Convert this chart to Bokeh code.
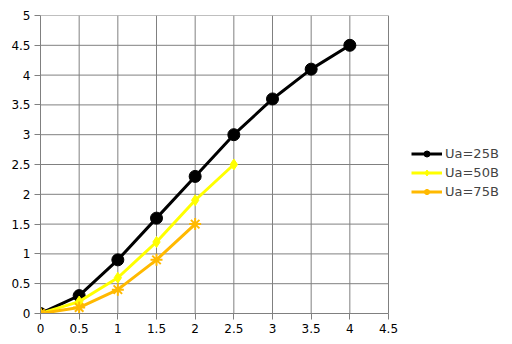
from bokeh.plotting import figure
from bokeh.models import Legend, LegendItem, FixedTicker, Range1d
from bokeh.embed import file_html
from bokeh.resources import INLINE

# data
x25 = [0, 0.5, 1, 1.5, 2, 2.5, 3, 3.5, 4]
y25 = [0, 0.3, 0.9, 1.6, 2.3, 3.0, 3.6, 4.1, 4.5]
x50 = [0, 0.5, 1, 1.5, 2, 2.5]
y50 = [0, 0.2, 0.6, 1.2, 1.9, 2.5]
x75 = [0, 0.5, 1, 1.5, 2]
y75 = [0, 0.1, 0.4, 0.9, 1.5]
names = ["Ua=25B", "Ua=50B", "Ua=75B"]
xticks = [0, 0.5, 1, 1.5, 2, 2.5, 3, 3.5, 4, 4.5]
yticks = [0, 0.5, 1, 1.5, 2, 2.5, 3, 3.5, 4, 4.5, 5]

FONT = "DejaVu Sans"
GRID = "#808080"

W, H = 512, 344
LEFT, TOP, BOTTOM = 40, 15, 31
PLOT_W = 348  # pixel width of the gridded area
xmax, ymax = xticks[-1], yticks[-1]
frame_w = W - LEFT
x_end = xmax * frame_w / PLOT_W  # extend frame so legend sits inside it

p = figure(width=W, height=H, output_backend="svg", toolbar_location=None,
           x_range=Range1d(0, x_end), y_range=Range1d(0, ymax),
           min_border_left=LEFT, min_border_right=0, min_border_top=TOP,
           min_border_bottom=BOTTOM)
p.outline_line_color = None
p.background_fill_color = "white"
p.border_fill_color = "white"
p.grid.grid_line_color = None

for ax, ticks in ((p.xaxis, xticks), (p.yaxis, yticks)):
    ax.ticker = FixedTicker(ticks=ticks)
    ax.major_label_overrides = {t: ("%g" % t) for t in ticks}
    ax.axis_line_color = GRID
    ax.major_tick_line_color = GRID
    ax.minor_tick_line_color = None
    ax.major_tick_in = 0
    ax.major_tick_out = 6
    ax.major_label_text_font = FONT
    ax.major_label_text_font_size = "12px"
    ax.major_label_text_color = "#000000"
    ax.major_label_standoff = 4
p.xaxis.bounds = (0, xmax)

# grid lines limited to the data area
p.segment(x0=xticks, y0=[0] * len(xticks), x1=xticks, y1=[ymax] * len(xticks),
          line_color=GRID, line_width=1)
p.segment(x0=[0] * len(yticks), y0=yticks, x1=[xmax] * len(yticks), y1=yticks,
          line_color=GRID, line_width=1)

c25, c50, c75 = "#000000", "#FFFF00", "#FFB900"

l1 = p.line(x25, y25, line_color=c25, line_width=3)
m1 = p.scatter(x25, y25, marker="circle", size=12, fill_color=c25, line_color=c25)
l2 = p.line(x50, y50, line_color=c50, line_width=3)
m2 = p.scatter(x50, y50, marker="diamond", size=11, fill_color=c50, line_color=c50)
l3 = p.line(x75, y75, line_color=c75, line_width=3)
m3 = p.scatter(x75, y75, marker="asterisk", size=12, line_color=c75, line_width=2)

legend = Legend(items=[LegendItem(label=names[0], renderers=[l1, m1]),
                       LegendItem(label=names[1], renderers=[l2, m2]),
                       LegendItem(label=names[2], renderers=[l3, m3])],
                location=(371, 114), orientation="vertical",
                label_text_font=FONT, label_text_font_size="13px",
                glyph_width=31, glyph_height=15, label_height=15, label_standoff=3,
                spacing=4, padding=0, margin=0,
                border_line_color=None, background_fill_alpha=0)
p.add_layout(legend, "center")

open("out.html", "w").write(file_html(p, INLINE))
